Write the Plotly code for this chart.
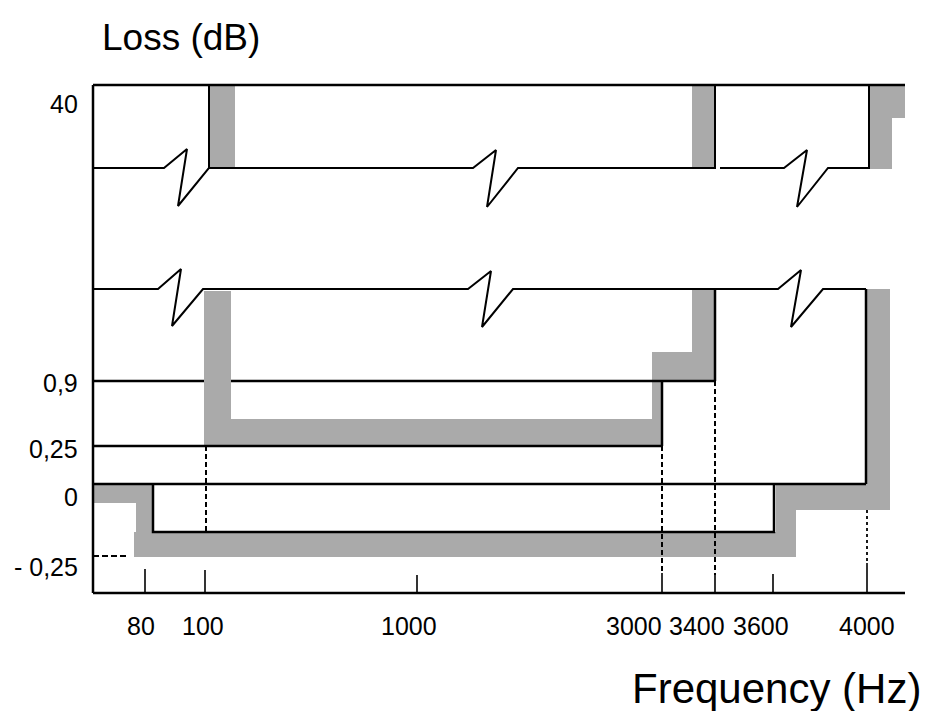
import plotly.graph_objects as go

# ---- data (schematic positions on the drawing's own axes) ----
freq_labels = ["80", "100", "1000", "3000", "3400", "3600", "4000"]
freq_x = [145, 205, 417, 662, 715, 773, 867]          # schematic frequency positions
loss_labels = ["40", "0,9", "0,25", "0", "- 0,25"]
loss_y = [85, 381, 446, 484, 556]                      # schematic loss levels

# break (axis-discontinuity) levels
break_hi = 168
break_lo = 289
inner_low = 532   # lower limit of the inner (pass) mask

GRAY = "#aaaaaa"
FONT = "Liberation Sans, Arial, sans-serif"

X0, X1 = 93, 905      # plot frame
YB = 593              # bottom axis

f80, f100, f1000, f3000, f3400, f3600, f4000 = freq_x
l40, l09, l025, l0, lm025 = loss_y

fig = go.Figure()


def poly(xs, ys):
    fig.add_trace(go.Scatter(x=xs + [xs[0]], y=ys + [ys[0]], mode="lines", fill="toself",
                             fillcolor=GRAY, line=dict(width=0, color=GRAY),
                             hoverinfo="skip", showlegend=False))


def line(xs, ys, w=2.5, dash=None, color="black"):
    fig.add_trace(go.Scatter(x=xs, y=ys, mode="lines",
                             line=dict(color=color, width=w, dash=dash),
                             hoverinfo="skip", showlegend=False))


# ---- gray tolerance bands ----
poly([f100 + 5, f100 + 30, f100 + 30, f100 + 5], [l40, l40, break_hi, break_hi])
poly([f3400 - 23, f3400, f3400, f3400 - 23], [l40, l40, break_hi, break_hi])
poly([f4000 + 2, X1, X1, f4000 + 25, f4000 + 25, f4000 + 2],
     [l40, l40, 118, 118, break_hi + 1, break_hi + 1])
poly([f100 - 1, f100 + 26, f100 + 26, f3000 - 10, f3000 - 10, f3400 - 23, f3400 - 23, f3400,
      f3400, f3000, f3000, f100 - 1],
     [break_lo + 2, break_lo + 2, 419, 419, 352, 352, break_lo, break_lo, l09, l09, l025, l025])
poly([X0, 153, 153, f3600 + 3, f3600 + 3, f4000, f4000, f4000 + 23, f4000 + 23, f3600 + 23,
      f3600 + 23, 134, 134, 136, 136, X0],
     [l0 + 1, l0 + 1, inner_low, inner_low, l0, l0, break_lo, break_lo, 510, 510,
      lm025 + 1, lm025 + 1, inner_low, inner_low, 503, 503])

# ---- frame ----
line([X0, X1], [l40, l40])
line([X0, X0], [l40, YB])
line([X0, X1], [YB, YB])

# ---- upper (40 dB) break line ----
line([X0, 164, 187, 178, 209, 209], [break_hi, break_hi, 149, 206, break_hi, l40], w=2)
line([209, 473, 496, 487, 518, f3400, f3400], [break_hi, break_hi, 150, 207, break_hi, break_hi, l40], w=2)
line([720, 784, 807, 797, 828, f4000 + 2, f4000 + 2], [break_hi, break_hi, 150, 207, break_hi, break_hi, l40], w=2)

# ---- middle break line ----
line([X0, 158, 181, 172, 203, 468, 491, 482, 513, f3400], [break_lo, break_lo, 269, 326, break_lo,
      break_lo, 271, 327, break_lo, break_lo], w=2)
line([f3400, 778, 801, 791, 823, f4000 - 1], [break_lo, break_lo, 270, 327, break_lo, break_lo], w=2)
line([f3400, f3400], [break_lo, l09])
line([f4000 - 1, f4000 - 1], [break_lo, l0])

# ---- level lines ----
line([X0, f100 - 1], [l09, l09])
line([f100 + 26, f3400], [l09, l09])
line([f3000, f3000], [l09, l025])
line([X0, f3000], [l025, l025])
line([X0, f4000 - 1], [l0, l0])
line([153, 153, f3600 + 1, f3600 + 1], [l0, inner_low, inner_low, l0])

# ---- dashed projections ----
DASH = "5px,3px"
line([f100 + 1, f100 + 1], [l025, inner_low], w=2, dash=DASH)
line([f3000, f3000], [l025, 573], w=2, dash=DASH)
line([f3400, f3400], [l09, 575], w=2, dash=DASH)
line([f4000, f4000], [510, 563], w=1.8, dash="3px,3px")
line([X0, 127], [lm025, lm025], w=2, dash="6px,3px")

# ---- ticks ----
tick_top = [569, 570, 575, 573, 575, 574, 563]
for fx, tt in zip(freq_x, tick_top):
    line([fx, fx], [tt, YB], w=1.6)

# ---- labels ----
ann = []
label_x = [141, 203, 409, 634, 697, 761, 867]
for lab, lx in zip(freq_labels, label_x):
    ann.append(dict(x=lx, y=626, text=lab, showarrow=False, xanchor="center", yanchor="middle",
                    font=dict(family=FONT, size=25, color="black")))
label_y = [104, 383, 449, 497, 567]
for lab, ly in zip(loss_labels, label_y):
    ann.append(dict(x=80, y=ly, text=lab, showarrow=False, xanchor="right", yanchor="middle",
                    font=dict(family=FONT, size=25, color="black")))
ann.append(dict(x=100, y=37, text="Loss (dB)", showarrow=False, xanchor="left", yanchor="middle",
                font=dict(family=FONT, size=37, color="black")))
ann.append(dict(x=923, y=688, text="Frequency (Hz)", showarrow=False, xanchor="right", yanchor="middle",
                font=dict(family=FONT, size=42, color="black")))

# the page body adds an 8px offset; shift the ranges so schematic units equal screen pixels
OFF = 8
fig.update_layout(
    width=929, height=711, margin=dict(l=0, r=0, t=0, b=0),
    paper_bgcolor="white", plot_bgcolor="white", showlegend=False,
    xaxis=dict(range=[OFF, 929 + OFF], visible=False, fixedrange=True),
    yaxis=dict(range=[711 + OFF, OFF], visible=False, fixedrange=True),
    annotations=ann,
)

fig.write_html("out.html")
